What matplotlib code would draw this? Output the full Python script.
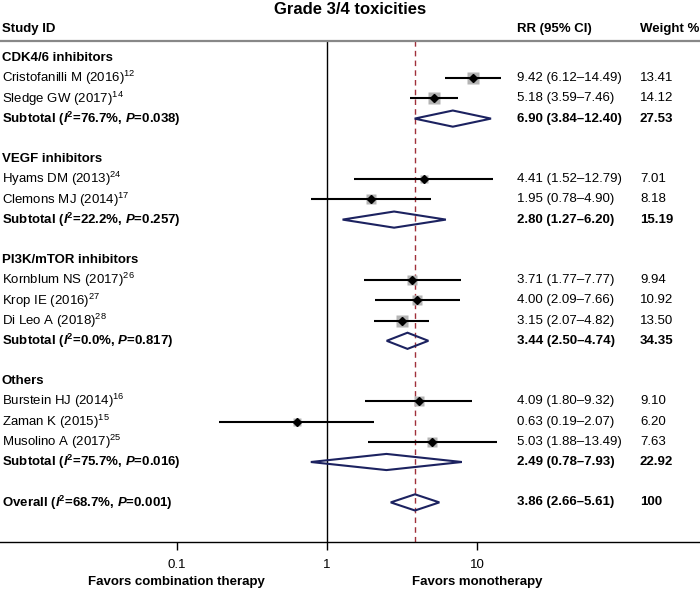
import matplotlib
matplotlib.use("Agg")
import matplotlib.pyplot as plt
import numpy as np
from matplotlib.patches import Polygon

plt.rcParams['font.family'] = ['Liberation Sans', 'DejaVu Sans']
plt.rcParams['mathtext.fontset'] = 'custom'
plt.rcParams['mathtext.rm'] = 'Liberation Sans'
plt.rcParams['mathtext.it'] = 'Liberation Sans:italic'
plt.rcParams['mathtext.bf'] = 'Liberation Sans:bold'
plt.rcParams['mathtext.bfit'] = 'Liberation Sans:italic:bold'

# group headers and their row
groups = ["CDK4/6 inhibitors", "VEGF inhibitors", "PI3K/mTOR inhibitors", "Others"]
group_rows = [0, 5, 10, 16]

# individual studies
studies = ["Cristofanilli M (2016)$^{12}$", "Sledge GW (2017)$^{14}$",
           "Hyams DM (2013)$^{24}$", "Clemons MJ (2014)$^{17}$",
           "Kornblum NS (2017)$^{26}$", "Krop IE (2016)$^{27}$", "Di Leo A (2018)$^{28}$",
           "Burstein HJ (2014)$^{16}$", "Zaman K (2015)$^{15}$", "Musolino A (2017)$^{25}$"]
study_rows = [1, 2, 6, 7, 11, 12, 13, 17, 18, 19]
rr = [9.42, 5.18, 4.41, 1.95, 3.71, 4.00, 3.15, 4.09, 0.63, 5.03]
lo = [6.12, 3.59, 1.52, 0.78, 1.77, 2.09, 2.07, 1.80, 0.19, 1.88]
hi = [14.49, 7.46, 12.79, 4.90, 7.77, 7.66, 4.82, 9.32, 2.07, 13.49]
weight = [13.41, 14.12, 7.01, 8.18, 9.94, 10.92, 13.50, 9.10, 6.20, 7.63]

# pooled estimates (subtotals + overall)
pooled_labels = [r"Subtotal ($\mathbfit{I}^{\mathbf{2}}$=76.7%, $\mathbfit{P}$=0.038)",
                 r"Subtotal ($\mathbfit{I}^{\mathbf{2}}$=22.2%, $\mathbfit{P}$=0.257)",
                 r"Subtotal ($\mathbfit{I}^{\mathbf{2}}$=0.0%, $\mathbfit{P}$=0.817)",
                 r"Subtotal ($\mathbfit{I}^{\mathbf{2}}$=75.7%, $\mathbfit{P}$=0.016)",
                 r"Overall ($\mathbfit{I}^{\mathbf{2}}$=68.7%, $\mathbfit{P}$=0.001)"]
pooled_rows = [3, 8, 14, 20, 22]
p_rr = [6.90, 2.80, 3.44, 2.49, 3.86]
p_lo = [3.84, 1.27, 2.50, 0.78, 2.66]
p_hi = [12.40, 6.20, 4.74, 7.93, 5.61]
p_weight = ["27.53", "15.19", "34.35", "22.92", "100"]

overall_rr = 3.86

W, H = 700, 589
fig = plt.figure(figsize=(7, 5.89), dpi=100)
top_px, bot_px = 41, 542
ax = fig.add_axes([0, (H - bot_px) / H, 1, (bot_px - top_px) / H])
ax.set_xscale('log')
x1_px, dec_px = 327, 150
ax.set_xlim(10 ** (-x1_px / dec_px), 10 ** ((W - x1_px) / dec_px))
row_h, row0 = 20.2, 58
ax.set_ylim((bot_px - row0) / row_h, (top_px - row0) / row_h)

for s in ['left', 'right']:
    ax.spines[s].set_visible(False)
ax.spines['top'].set_color('#888888')
ax.spines['top'].set_linewidth(1.6)
ax.spines['bottom'].set_linewidth(1.0)
ax.set_yticks([])
ax.set_xticks([0.1, 1, 10])
ax.set_xticklabels(["0.1", "1", "10"])
ax.xaxis.set_minor_locator(matplotlib.ticker.NullLocator())
ax.tick_params(axis='x', length=6, width=1.0, labelsize=9.5, pad=6)

ax.axvline(1, color='black', lw=1.0)
ax.axvline(overall_rr, color='#a0303a', lw=1.0, ls=(0, (4, 3)))

fs = 9.5
tr = ax.get_yaxis_transform()  # x in axes fraction, y in data
xt_name, xt_rr, xt_w = 2 / W, 517 / W, 640 / W

for g, r in zip(groups, group_rows):
    ax.text(xt_name, r, g, transform=tr, fontsize=fs, fontweight='bold', va='center')

for name, r, e, l, h, w in zip(studies, study_rows, rr, lo, hi, weight):
    ax.plot([l, h], [r, r], color='black', lw=1.5, solid_capstyle='butt', zorder=3)
    ax.plot(e, r, marker='s', ms=3.3 * np.sqrt(w) * 0.72, color='#b4b4b4', mec='none', zorder=2)
    ax.plot(e, r, marker='D', ms=4.2, color='black', zorder=4)
    ax.text(xt_name, r, name, transform=tr, fontsize=fs, va='center')
    ax.text(xt_rr, r, f"{e:.2f} ({l:.2f}\u2013{h:.2f})", transform=tr, fontsize=fs, va='center')
    ax.text(xt_w, r, f"{w:.2f}", transform=tr, fontsize=fs, va='center')

for lab, r, e, l, h, w in zip(pooled_labels, pooled_rows, p_rr, p_lo, p_hi, p_weight):
    dia = Polygon([[l, r], [e, r - 0.4], [h, r], [e, r + 0.4]], closed=True,
                  fill=False, edgecolor='#1c2260', lw=1.5, zorder=3)
    ax.add_patch(dia)
    ax.text(xt_name, r, lab, transform=tr, fontsize=fs, fontweight='bold', va='center')
    ax.text(xt_rr, r, f"{e:.2f} ({l:.2f}\u2013{h:.2f})", transform=tr, fontsize=fs,
            fontweight='bold', va='center')
    ax.text(xt_w, r, w, transform=tr, fontsize=fs, fontweight='bold', va='center')

fig.text(350 / W, 1 - 9 / H, "Grade 3/4 toxicities", ha='center', va='center',
         fontsize=12, fontweight='bold')
fig.text(2 / W, 1 - 29 / H, "Study ID", ha='left', va='center', fontsize=fs, fontweight='bold')
fig.text(517 / W, 1 - 29 / H, "RR (95% CI)", ha='left', va='center', fontsize=fs, fontweight='bold')
fig.text(640 / W, 1 - 29 / H, "Weight %", ha='left', va='center', fontsize=fs, fontweight='bold')
fig.text(176 / W, 1 - 582 / H, "Favors combination therapy", ha='center', va='center',
         fontsize=fs, fontweight='bold')
fig.text(477 / W, 1 - 582 / H, "Favors monotherapy", ha='center', va='center',
         fontsize=fs, fontweight='bold')

fig.savefig("out.png", dpi=100)
